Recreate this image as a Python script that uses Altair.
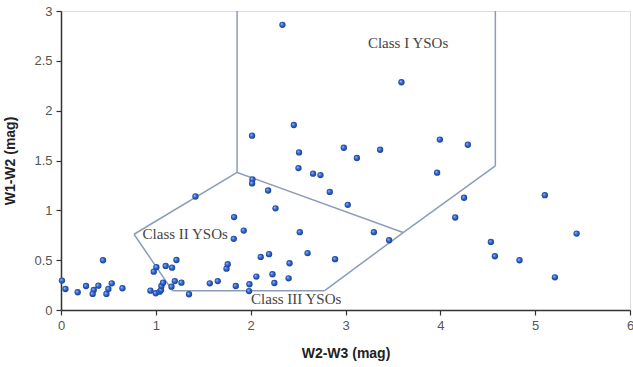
import altair as alt
import pandas as pd

# Scatter points (W2-W3, W1-W2)
w2w3 = [0.01, 0.047, 0.176, 0.264, 0.345, 0.334, 0.394, 0.443, 0.479, 0.5, 0.535, 0.648,
        0.943, 0.978, 1.006, 0.999, 1.041, 1.055, 1.059, 1.076, 1.104, 1.171, 1.217, 1.165, 1.2, 1.27, 1.35,
        1.418, 1.569, 1.653, 1.745, 1.758, 1.825, 1.822, 1.927, 1.843, 1.987, 1.983, 2.019, 2.015, 2.06,
        2.106, 2.184, 2.194, 2.262, 2.23, 2.25, 2.40, 2.41, 2.518, 2.60, 2.89, 3.299, 3.46, 2.834, 3.024,
        2.335, 2.015, 2.455, 2.51, 2.504, 2.658, 2.736, 2.982, 3.12, 3.365, 3.59, 3.995, 4.29, 3.966,
        4.25, 4.157, 5.102, 5.437, 4.533, 4.575, 4.835, 5.208]
w1w2 = [0.295, 0.211, 0.178, 0.241, 0.201, 0.161, 0.244, 0.499, 0.161, 0.211, 0.268, 0.218,
        0.194, 0.385, 0.43, 0.168, 0.184, 0.2, 0.241, 0.274, 0.442, 0.425, 0.502, 0.234, 0.29, 0.274, 0.158,
        1.139, 0.268, 0.29, 0.415, 0.459, 0.932, 0.714, 0.797, 0.241, 0.258, 0.19, 1.31, 1.27, 0.335,
        0.533, 1.199, 0.56, 1.02, 0.359, 0.271, 0.318, 0.469, 0.781, 0.57, 0.51, 0.781, 0.70, 1.185, 1.055,
        2.861, 1.749, 1.856, 1.581, 1.424, 1.368, 1.354, 1.628, 1.525, 1.608, 2.285, 1.71, 1.658, 1.378,
        1.126, 0.928, 1.152, 0.767, 0.683, 0.539, 0.499, 0.328]

# Class boundary segments
seg_x1 = [1.857, 1.857, 3.608, 4.58, 1.857, 0.77, 1.175, 2.78]
seg_y1 = [3.0, 1.38, 0.777, 1.447, 1.38, 0.76, 0.194, 0.194]
seg_x2 = [1.857, 3.608, 4.58, 4.58, 0.77, 1.175, 2.78, 3.608]
seg_y2 = [1.38, 0.777, 1.447, 3.0, 0.76, 0.194, 0.194, 0.777]

# Region labels
lab_text = ["Class I YSOs", "Class II YSOs", "Class III YSOs"]
lab_x = [3.66, 1.31, 2.48]
lab_y = [2.68, 0.76, 0.114]

pts = pd.DataFrame({"x": w2w3, "y": w1w2})
segs = pd.DataFrame({"x": seg_x1, "y": seg_y1, "x2": seg_x2, "y2": seg_y2})
labs = pd.DataFrame({"t": lab_text, "x": lab_x, "y": lab_y})

xscale = alt.Scale(domain=[0, 6], nice=False, zero=False)
yscale = alt.Scale(domain=[0, 3], nice=False, zero=False)

common = dict(grid=False, format="~g", labelFlush=False,
              labelFont="Liberation Sans", labelFontSize=13, labelColor="#555",
              titleFont="Liberation Sans", titleFontSize=14, titleFontWeight="bold",
              titleColor="#222", domainColor="#333", domainWidth=1.5, tickColor="#333",
              tickWidth=1.2, tickSize=5, labelPadding=4)
xaxis = alt.Axis(title="W2-W3 (mag)", values=[0, 1, 2, 3, 4, 5, 6], titlePadding=14, **common)
yaxis = alt.Axis(title="W1-W2 (mag)", values=[0, 0.5, 1, 1.5, 2, 2.5, 3], titlePadding=16, **common)

lines = alt.Chart(segs).mark_rule(color="#8d9cba", strokeWidth=1.5).encode(
    x=alt.X("x:Q", scale=xscale, axis=xaxis),
    y=alt.Y("y:Q", scale=yscale, axis=yaxis),
    x2="x2:Q", y2="y2:Q")

grad = alt.Gradient(gradient="radial",
                    stops=[alt.GradientStop(color="#9fc0ff", offset=0),
                           alt.GradientStop(color="#2f62c8", offset=0.5),
                           alt.GradientStop(color="#123a8a", offset=1)],
                    x1=0.35, y1=0.35, r1=0, x2=0.5, y2=0.5, r2=0.55)

points = alt.Chart(pts).mark_circle(size=40, opacity=1, color=grad).encode(
    x=alt.X("x:Q", scale=xscale), y=alt.Y("y:Q", scale=yscale))

texts = alt.Chart(labs).mark_text(font="Liberation Serif", fontSize=15, color="#444").encode(
    x=alt.X("x:Q", scale=xscale), y=alt.Y("y:Q", scale=yscale), text="t:N")

chart = alt.layer(lines, points, texts).properties(
    width=569, height=299,
    autosize="none",
    padding={"left": 61, "top": 11, "right": 3, "bottom": 57},
).configure_view(stroke="#555", strokeWidth=1.2).configure(background="white")

chart.save("out.html", embed_options={"renderer": "svg", "actions": False})
